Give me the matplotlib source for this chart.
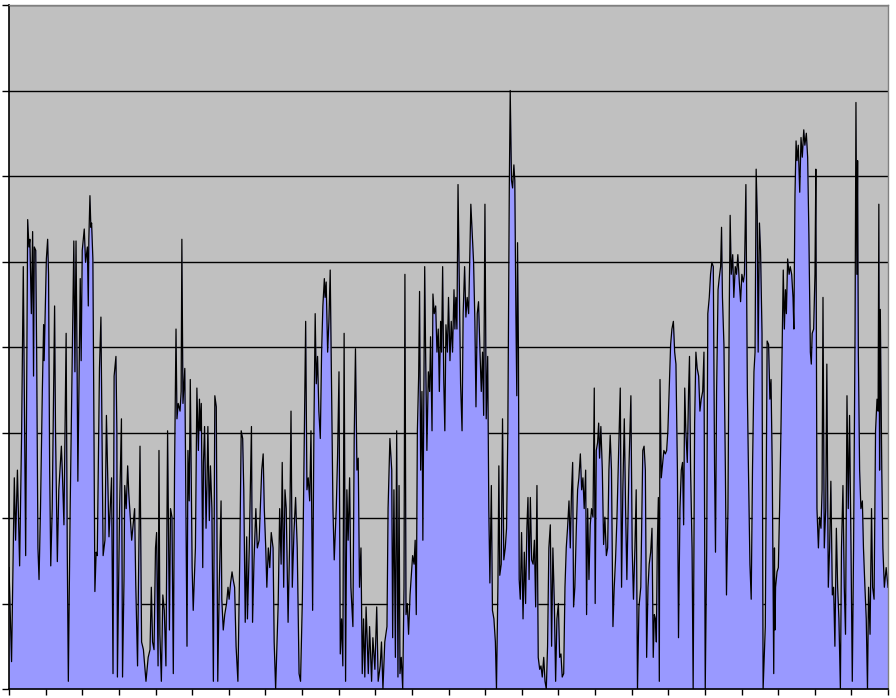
import matplotlib
matplotlib.use("Agg")
import matplotlib.pyplot as plt
import numpy as np

# time of day (hours) and measured level
hours_a = [0.00, 0.07, 0.145, 0.18, 0.23, 0.29, 0.345, 0.39, 0.43, 0.455, 0.51, 0.545, 0.57, 0.61, 0.645,
           0.67, 0.69, 0.73, 0.755, 0.79, 0.82, 0.86, 0.91, 0.945, 0.96, 1.02, 1.055, 1.08, 1.11, 1.14,
           1.18, 1.245, 1.27, 1.32, 1.36, 1.43, 1.455, 1.5, 1.56, 1.59, 1.62, 1.67, 1.73, 1.77, 1.8,
           1.83, 1.86, 1.88, 1.945, 1.97, 2.0, 2.055, 2.09, 2.14, 2.165, 2.18, 2.21, 2.235, 2.255, 2.29,
           2.32, 2.345, 2.38, 2.41, 2.47, 2.51, 2.54, 2.57, 2.62, 2.66, 2.73, 2.8, 2.84, 2.87, 2.92,
           2.945, 2.96, 3.02, 3.07, 3.1, 3.14, 3.16, 3.2, 3.24, 3.27, 3.35, 3.43, 3.46, 3.51]
level_a = [1.42, 0.32, 2.47, 1.74, 2.56, 1.44, 3.02, 4.94, 2.84, 1.56, 5.49, 5.17, 5.26, 4.39, 5.35,
           3.66, 5.17, 5.13, 3.94, 1.65, 1.28, 2.11, 3.48, 4.26, 3.84, 5.03, 5.26, 4.85, 2.56, 1.44,
           2.11, 4.48, 3.02, 1.49, 2.33, 2.84, 2.56, 1.92, 4.16, 1.65, 0.09, 2.11, 3.94, 5.24, 3.71,
           5.24, 3.75, 2.43, 4.8, 3.84, 5.13, 5.38, 4.99, 5.17, 4.48, 5.26, 5.77, 5.4, 5.45, 5.03,
           3.02, 1.14, 1.6, 1.56, 3.75, 4.35, 3.02, 1.56, 1.74, 3.2, 1.78, 2.47, 0.18, 3.66, 3.89,
           3.02, 0.14, 2.11, 3.16, 0.14, 1.28, 2.38, 2.11, 2.61, 2.29, 1.74, 2.11, 1.24, 0.27]

hours_b = [3.577, 3.62, 3.67, 3.74, 3.8, 3.85, 3.886, 3.92, 3.96, 4.0, 4.03, 4.07, 4.095, 4.12, 4.16,
           4.2, 4.24, 4.285, 4.33, 4.38, 4.41, 4.45, 4.486, 4.52, 4.56, 4.586, 4.62, 4.67, 4.7, 4.72,
           4.75, 4.8, 4.83, 4.86, 4.886, 4.92, 4.95, 5.0, 5.03, 5.09, 5.13, 5.17, 5.2, 5.22, 5.25,
           5.29, 5.31, 5.34, 5.38, 5.405, 5.43, 5.47, 5.5, 5.54, 5.58, 5.62, 5.66, 5.7, 5.74, 5.79,
           5.81, 5.85, 5.89, 5.94, 5.98, 6.01, 6.05, 6.09, 6.12, 6.16, 6.2, 6.25, 6.3, 6.34, 6.38,
           6.41, 6.45, 6.49, 6.51, 6.56, 6.62, 6.65, 6.69, 6.74, 6.78, 6.83, 6.9, 6.94]
level_b = [2.84, 0.55, 0.46, 0.09, 0.37, 0.46, 1.19, 0.55, 0.46, 1.65, 1.83, 0.27, 2.79, 0.64, 0.09,
           1.1, 0.92, 0.27, 3.02, 0.69, 2.11, 2.01, 0.18, 2.56, 4.21, 3.16, 3.34, 3.25, 3.48, 5.26,
           3.34, 3.75, 2.11, 0.5, 2.79, 2.2, 3.62, 1.42, 0.92, 1.65, 3.52, 2.79, 3.39, 3.02, 3.34,
           1.42, 2.65, 3.07, 1.88, 2.38, 3.07, 1.97, 2.61, 2.11, 0.09, 3.43, 3.3, 0.09, 1.19, 2.2,
           1.05, 0.69, 0.87, 1.0, 1.19, 1.05, 1.24, 1.37, 1.28, 1.19, 0.5, 0.09, 1.51, 3.02, 2.93,
           2.33, 0.78, 1.78, 0.82, 1.65, 3.07, 0.78, 1.51, 2.11, 1.65, 1.74, 2.56, 2.75]

hours_c = [6.97, 7.01, 7.04, 7.08, 7.12, 7.16, 7.21, 7.24, 7.28, 7.32, 7.35, 7.39, 7.43, 7.46, 7.5,
           7.535, 7.57, 7.62, 7.66, 7.7, 7.735, 7.78, 7.825, 7.87, 7.92, 7.96, 8.01, 8.04, 8.1, 8.135,
           8.17, 8.21, 8.245, 8.29, 8.325, 8.36, 8.39, 8.425, 8.46, 8.5, 8.535, 8.57, 8.61, 8.63, 8.66,
           8.7, 8.735, 8.77, 8.8, 8.845, 8.88, 8.935, 8.97, 9.01, 9.045, 9.08, 9.115, 9.15, 9.19, 9.225,
           9.26, 9.3, 9.335, 9.39, 9.425, 9.46, 9.5, 9.535, 9.57, 9.61, 9.645, 9.68, 9.715, 9.75, 9.81,
           9.845, 9.9, 9.935, 9.99, 10.04, 10.08, 10.135, 10.17, 10.21, 10.26, 10.32, 10.35]
level_c = [2.11, 1.65, 1.19, 1.65, 1.42, 1.83, 1.65, 0.55, 0.0, 0.55, 1.0, 2.11, 1.46, 2.65, 1.19,
           2.33, 2.11, 0.78, 1.65, 3.25, 1.19, 1.83, 2.24, 1.65, 0.18, 0.09, 1.05, 2.11, 4.3, 2.33,
           2.47, 2.2, 3.02, 0.92, 3.02, 4.39, 3.57, 3.89, 3.25, 2.93, 3.94, 4.48, 4.8, 4.58, 4.76,
           3.94, 4.3, 4.9, 3.75, 2.11, 1.51, 2.11, 2.7, 3.71, 0.41, 0.82, 0.27, 4.16, 0.09, 2.33,
           1.74, 2.47, 1.19, 0.73, 2.93, 3.98, 2.56, 2.7, 1.19, 1.65, 0.18, 0.82, 0.14, 0.96, 0.18,
           0.73, 0.09, 0.6, 0.23, 0.96, 0.09, 0.27, 0.55, 0.0, 0.55, 0.73, 2.11]

hours_d = [10.4, 10.45, 10.475, 10.51, 10.55, 10.585, 10.62, 10.65, 10.675, 10.71, 10.75, 10.785, 10.81,
           10.84, 10.875, 10.91, 10.95, 10.985, 11.02, 11.06, 11.09, 11.12, 11.15, 11.185, 11.21, 11.24,
           11.275, 11.3, 11.35, 11.375, 11.41, 11.45, 11.485, 11.51, 11.55, 11.575, 11.61, 11.65, 11.685,
           11.72, 11.75, 11.785, 11.81, 11.84, 11.87, 11.9, 11.93, 11.97, 12.0, 12.04, 12.075, 12.11,
           12.15, 12.175, 12.2, 12.23, 12.26, 12.3, 12.33, 12.37, 12.4, 12.44, 12.475, 12.51, 12.55,
           12.585, 12.61, 12.65, 12.685, 12.72, 12.75, 12.785, 12.82, 12.86, 12.895, 12.93, 12.96,
           12.995, 13.03, 13.07, 13.1, 13.13, 13.17, 13.2, 13.24, 13.28, 13.31, 13.35, 13.375, 13.4,
           13.44, 13.475, 13.51, 13.55, 13.585, 13.62, 13.66, 13.685, 13.72, 13.75, 13.785, 13.81,
           13.84, 13.865]
level_d = [2.93, 2.56, 0.6, 2.33, 0.37, 3.02, 0.14, 2.38, 0.18, 0.37, 0.0, 1.19, 4.85,
           0.87, 1.0, 0.64, 1.1, 1.33, 1.56, 1.46, 1.74, 0.87, 3.02, 3.66, 4.65, 2.56,
           3.48, 1.74, 4.94, 3.94, 2.79, 3.71, 3.48, 4.12, 3.02, 4.62, 4.39, 4.48, 3.94,
           4.21, 3.48, 4.3, 3.94, 4.94, 3.62, 3.02, 4.26, 3.94, 4.58, 3.84, 4.3, 3.94,
           4.67, 4.21, 4.58, 4.21, 5.9, 4.58, 3.57, 3.02, 4.39, 4.94, 4.35, 4.58, 4.39,
           5.17, 5.67, 5.31, 4.99, 4.3, 3.3, 4.39, 4.53, 3.94, 3.48, 3.94, 3.2,
           5.67, 3.16, 3.89, 2.11, 1.24, 2.38, 0.92, 0.82, 0.55, 0.0, 1.24, 2.61, 1.33,
           1.46, 3.16, 1.51, 1.65, 1.88, 3.02, 5.86, 7.0, 5.95, 5.86, 6.13, 5.95,
           4.39, 3.43]

hours_e = [13.885, 13.91, 13.93, 13.96, 13.995, 14.035, 14.07, 14.105, 14.14, 14.17, 14.2, 14.235, 14.27,
           14.31, 14.345, 14.38, 14.415, 14.45, 14.49, 14.525, 14.56, 14.6, 14.635, 14.67, 14.705, 14.74,
           14.78, 14.815, 14.85, 14.89, 14.925, 14.96, 15.0, 15.035, 15.07, 15.105, 15.145, 15.18, 15.215,
           15.25, 15.29, 15.325, 15.36, 15.39, 15.415, 15.45, 15.49, 15.525, 15.56, 15.6, 15.635, 15.67,
           15.705, 15.745, 15.77, 15.8, 15.835, 15.87, 15.905, 15.945, 15.98, 16.005, 16.035, 16.07, 16.1,
           16.125, 16.16, 16.2, 16.235, 16.27, 16.31, 16.345, 16.38, 16.415, 16.45, 16.49, 16.525, 16.56,
           16.6, 16.645, 16.69, 16.725, 16.76, 16.8, 16.835, 16.87, 16.925, 16.98, 17.015, 17.05, 17.09,
           17.125, 17.16, 17.2, 17.25, 17.305]
level_e = [5.22, 3.94, 1.28, 1.05, 1.83, 0.82, 1.6, 1.0, 1.88, 2.24, 1.28, 2.24, 1.51,
           1.46, 1.74, 0.96, 2.38, 0.37, 0.23, 0.27, 0.14, 0.37, 0.09, 0.0, 0.5, 1.65,
           1.92, 0.5, 1.65, 1.0, 0.09, 0.82, 1.0, 0.37, 0.41, 0.14, 0.18, 1.19, 1.65,
           1.88, 2.2, 1.65, 2.33, 2.65, 0.96, 1.19, 1.88, 2.33, 2.47, 2.75, 2.33, 2.47,
           2.11, 2.56, 0.87, 2.11, 1.28, 1.92, 2.11, 2.01, 3.52, 1.0, 2.79, 2.88, 3.11,
           2.7, 3.07, 2.56, 1.69, 2.01, 1.56, 1.65, 2.56, 2.97, 2.56, 0.73, 1.19, 1.51,
           2.01, 2.79, 3.52, 1.19, 2.33, 3.16, 2.11, 1.28, 2.56, 3.43, 1.65, 1.05, 1.65,
           2.33, 0.0, 0.96, 1.19, 2.79]

hours_f = [17.34, 17.375, 17.41, 17.447, 17.48, 17.52, 17.556, 17.59, 17.62, 17.65, 17.675, 17.7, 17.73,
           17.756, 17.775, 17.81, 17.85, 17.88, 17.92, 17.956, 17.99, 18.03, 18.065, 18.1, 18.14, 18.175,
           18.21, 18.25, 18.28, 18.32, 18.356, 18.39, 18.42, 18.45, 18.48, 18.52, 18.555, 18.58, 18.61,
           18.65, 18.68, 18.72, 18.755, 18.79, 18.83, 18.865, 18.9, 18.94, 18.975, 19.01, 19.05, 19.08,
           19.12, 19.155, 19.19, 19.23, 19.265, 19.29, 19.32, 19.36, 19.39, 19.43, 19.455, 19.48, 19.52,
           19.56, 19.59, 19.63, 19.665, 19.69, 19.72, 19.76, 19.79, 19.83, 19.865, 19.9, 19.94, 19.975,
           20.01, 20.05, 20.08, 20.12, 20.16, 20.19, 20.23, 20.265, 20.3, 20.34, 20.37, 20.4, 20.43,
           20.455, 20.49, 20.52, 20.56, 20.59, 20.65, 20.7, 20.74, 20.775]
level_f = [2.84, 2.56, 0.37, 1.19, 1.46, 1.6, 1.88, 0.37, 0.87, 0.82, 0.55, 1.65, 2.24,
           0.09, 3.62, 2.47, 2.65, 2.79, 2.75, 2.79, 3.02, 3.57, 4.03, 4.21, 4.3, 3.94,
           3.8, 2.56, 0.6, 2.11, 2.56, 2.65, 1.92, 3.52, 3.02, 2.65, 3.48, 3.89, 2.56,
           1.65, 0.0, 3.11, 3.94, 3.75, 3.66, 3.25, 3.39, 3.48, 3.94, 0.0, 1.65, 4.39,
           4.58, 4.85, 4.99, 4.94, 2.56, 1.6, 3.48, 4.67, 4.8, 4.94, 5.4, 4.58, 4.03,
           2.56, 1.1, 2.11, 4.39, 5.54, 4.85, 5.08, 4.58, 4.94, 4.85, 5.08, 4.76, 4.53,
           4.85, 4.76, 4.85, 5.9, 3.48, 2.56, 1.46, 1.05, 2.56, 3.71, 3.94, 6.08, 5.54,
           3.94, 5.45, 5.13, 4.16, 0.0, 0.73, 4.07, 4.03, 3.39]

hours_g = [20.806, 20.84, 20.88, 20.9, 20.915, 20.93, 20.97, 21.006, 21.04, 21.08, 21.115, 21.14, 21.17,
           21.2, 21.225, 21.26, 21.3, 21.33, 21.37, 21.406, 21.43, 21.46, 21.49, 21.515, 21.55, 21.59,
           21.625, 21.66, 21.7, 21.73, 21.77, 21.806, 21.84, 21.88, 21.906, 21.93, 21.97, 22.006, 22.03,
           22.06, 22.1, 22.13, 22.17, 22.2, 22.225, 22.26, 22.3, 22.33, 22.37, 22.406, 22.44, 22.48,
           22.515, 22.55, 22.59, 22.625, 22.66, 22.7, 22.73, 22.77, 22.806, 22.84, 22.88, 22.915, 22.95,
           22.99, 23.025, 23.06, 23.1, 23.125, 23.15, 23.17, 23.19, 23.225, 23.26, 23.3, 23.33, 23.37,
           23.406, 23.44, 23.47, 23.51, 23.55, 23.58, 23.62, 23.66, 23.7, 23.73, 23.75, 23.77, 23.79,
           23.83, 23.86, 23.9, 23.95, 24.0]
level_g = [3.62, 2.56, 0.18, 1.65, 0.69, 1.19, 1.37, 1.42, 2.11, 3.11, 4.16, 4.9, 4.21,
           4.67, 4.39, 5.03, 4.85, 4.94, 4.85, 4.58, 4.21, 5.77, 6.41, 6.18, 6.36, 5.81,
           6.45, 6.22, 6.54, 6.36, 6.5, 6.22, 5.31, 3.94, 3.8, 4.16, 4.21, 4.85, 6.08,
           2.11, 1.65, 2.01, 1.88, 2.33, 4.58, 1.65, 2.11, 3.8, 1.19, 1.65, 2.43, 1.1,
           1.19, 0.5, 1.88, 1.19, 0.82, 0.0, 1.65, 2.38, 1.19, 0.64, 3.43, 2.11, 3.2,
           1.65, 0.09, 1.65, 4.16, 6.86, 4.85, 6.18, 3.94, 2.56, 2.11, 2.2, 1.65, 1.19,
           0.82, 0.0, 1.19, 0.64, 2.11, 1.19, 1.05, 3.02, 3.39, 3.25, 5.67, 2.56, 4.44,
           2.56, 1.65, 1.19, 1.42, 1.19]

hours = np.array(hours_a + hours_b + hours_c + hours_d + hours_e + hours_f + hours_g)
level = np.array(level_a + level_b + level_c + level_d + level_e + level_f + level_g)

x_ticks = list(range(0, 25))
y_ticks = list(range(0, 9))

W, H = 896, 698
fig = plt.figure(figsize=(W / 100, H / 100), dpi=100)
fig.patch.set_facecolor("white")
ax = fig.add_axes([9 / W, 9 / H, 879 / W, 684 / H])
ax.set_facecolor("#C0C0C0")

ax.fill_between(hours, level, 0, color="#9999FF", linewidth=0, zorder=2)
ax.plot(hours, level, color="black", linewidth=0.9, zorder=3)

ax.set_xlim(0, 24)
ax.set_ylim(0, 8)
ax.set_xticks(x_ticks)
ax.set_yticks(y_ticks)
ax.set_xticklabels([])
ax.set_yticklabels([])
ax.set_axisbelow(True)
ax.yaxis.grid(True, color="black", linewidth=1.0)
ax.xaxis.grid(False)

ax.tick_params(axis="x", direction="out", length=4.5, width=1, color="black")
ax.tick_params(axis="y", direction="out", length=5, width=1, color="black")

ax.spines["left"].set_color("black")
ax.spines["bottom"].set_color("black")
ax.spines["left"].set_linewidth(1.2)
ax.spines["bottom"].set_linewidth(1.2)
ax.spines["top"].set_color("#808080")
ax.spines["right"].set_color("#808080")
ax.spines["top"].set_linewidth(1.0)
ax.spines["right"].set_linewidth(1.0)
for s in ax.spines.values():
    s.set_zorder(4)

fig.savefig("out.png", dpi=100)
